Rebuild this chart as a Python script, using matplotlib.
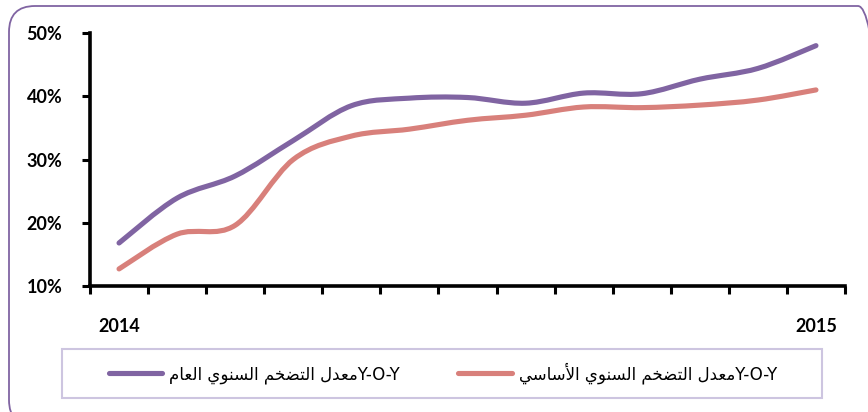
import numpy as np
import matplotlib.pyplot as plt
from matplotlib.path import Path
from matplotlib.patches import PathPatch, FancyBboxPatch, Rectangle
from matplotlib.transforms import IdentityTransform
from matplotlib.lines import Line2D

# --------------- Data ---------------
months = list(range(13))
x_labels = ['2014'] + [''] * 11 + ['2015']
headline = [16.8, 23.9, 27.4, 33.0, 38.5, 39.7, 39.8, 38.9, 40.5, 40.4, 42.7, 44.4, 48.0]
core = [12.7, 18.2, 19.6, 30.0, 33.7, 34.8, 36.2, 37.0, 38.3, 38.2, 38.6, 39.4, 41.0]
y_ticks = [10, 20, 30, 40, 50]
label_headline = 'Y-O-Yمعدل التضخم السنوي العام'
label_core = 'Y-O-Yمعدل التضخم السنوي الأساسي'

PURPLE = '#8064a2'
SALMON = '#d8807b'

# --------------- Arabic shaping (matplotlib has no bidi) ---------------
FORMS = {
    'ا': ('\uFE8D', '\uFE8E', None, None),
    'أ': ('\uFE83', '\uFE84', None, None),
    'د': ('\uFEA9', '\uFEAA', None, None),
    'و': ('\uFEED', '\uFEEE', None, None),
    'ل': ('\uFEDD', '\uFEDE', '\uFEDF', '\uFEE0'),
    'م': ('\uFEE1', '\uFEE2', '\uFEE3', '\uFEE4'),
    'ع': ('\uFEC9', '\uFECA', '\uFECB', '\uFECC'),
    'ت': ('\uFE95', '\uFE96', '\uFE97', '\uFE98'),
    'ض': ('\uFEBD', '\uFEBE', '\uFEBF', '\uFEC0'),
    'خ': ('\uFEA5', '\uFEA6', '\uFEA7', '\uFEA8'),
    'س': ('\uFEB1', '\uFEB2', '\uFEB3', '\uFEB4'),
    'ن': ('\uFEE5', '\uFEE6', '\uFEE7', '\uFEE8'),
    'ي': ('\uFEF1', '\uFEF2', '\uFEF3', '\uFEF4'),
    'لأ': ('\uFEF7', '\uFEF8', None, None),
    'لا': ('\uFEFB', '\uFEFC', None, None),
}


def shape_word(w):
    letters = []
    i = 0
    while i < len(w):
        if w[i] == 'ل' and i + 1 < len(w) and w[i + 1] in 'اأ':
            letters.append(w[i:i + 2])
            i += 2
        else:
            letters.append(w[i])
            i += 1
    out = []
    for k, ch in enumerate(letters):
        f = FORMS[ch]
        prev = k > 0 and FORMS[letters[k - 1]][2] is not None
        nxt = k + 1 < len(letters) and f[2] is not None
        if prev and nxt:
            out.append(f[3])
        elif prev:
            out.append(f[1])
        elif nxt:
            out.append(f[2])
        else:
            out.append(f[0])
    return ''.join(out)


def visual(label):
    latin, arabic = label[:5], label[5:]
    shaped = ' '.join(shape_word(w) for w in arabic.split(' '))
    return shaped[::-1] + latin


def smooth_path(xs, ys):
    # excel-like smoothed line (catmull-rom as bezier)
    p = np.column_stack([xs, ys]).astype(float)
    ext = np.vstack([p[0], p, p[-1]])
    verts = [p[0]]
    codes = [Path.MOVETO]
    for i in range(len(p) - 1):
        c1 = ext[i + 1] + (ext[i + 2] - ext[i]) / 6
        c2 = ext[i + 2] - (ext[i + 3] - ext[i + 1]) / 6
        verts += [c1, c2, ext[i + 2]]
        codes += [Path.CURVE4] * 3
    return Path(verts, codes)


# --------------- Plot ---------------
plt.rcParams['font.family'] = ['Lato', 'DejaVu Sans']
fig = plt.figure(figsize=(8.68, 4.12), dpi=100)
ax = fig.add_axes([90 / 868, 1 - 286 / 412, 755 / 868, 253 / 412])

for vals, col in [(headline, PURPLE), (core, SALMON)]:
    ax.add_patch(PathPatch(smooth_path(months, vals), fill=False, edgecolor=col,
                           lw=3.7, capstyle='round', joinstyle='round'))

ax.set_xlim(-0.5, 12.5)
ax.set_ylim(10, 50)
ax.set_yticks(y_ticks)
ax.set_yticklabels([f'{v}%' for v in y_ticks], fontsize=13, fontweight='bold')
ax.set_xticks(months)
ax.set_xticklabels(x_labels, fontsize=13, fontweight='bold')
ax.set_xticks(np.arange(-0.5, 13), minor=True)
ax.tick_params(axis='x', which='major', length=0, pad=23)
ax.tick_params(axis='x', which='minor', length=6, width=2.2, direction='out')
ax.tick_params(axis='y', length=6, width=2.2, pad=14)
for s in ['top', 'right']:
    ax.spines[s].set_visible(False)
for s in ['left', 'bottom']:
    ax.spines[s].set_linewidth(2.6)

# legend box and outer frame (pixel coords)
fig.add_artist(Rectangle((62, 412 - 398), 760, 49, transform=IdentityTransform(),
                         fill=False, edgecolor='#cdc5e0', lw=1.5))
fig.add_artist(FancyBboxPatch((9, -14), 875, 420, boxstyle='round,pad=0,rounding_size=26',
                              transform=IdentityTransform(), fill=False,
                              edgecolor=PURPLE, lw=1.3))

handles = [Line2D([], [], color=PURPLE, lw=3.7, solid_capstyle='round'),
           Line2D([], [], color=SALMON, lw=3.7, solid_capstyle='round')]
fig.legend(handles, [visual(label_headline), visual(label_core)], ncol=2,
           loc='center', bbox_to_anchor=(443 / 868, 1 - 373 / 412), frameon=False,
           prop={'family': ['DejaVu Sans'], 'size': 12}, handlelength=3.2,
           columnspacing=3.5, handletextpad=0.45)

fig.savefig('out.png', dpi=100)
